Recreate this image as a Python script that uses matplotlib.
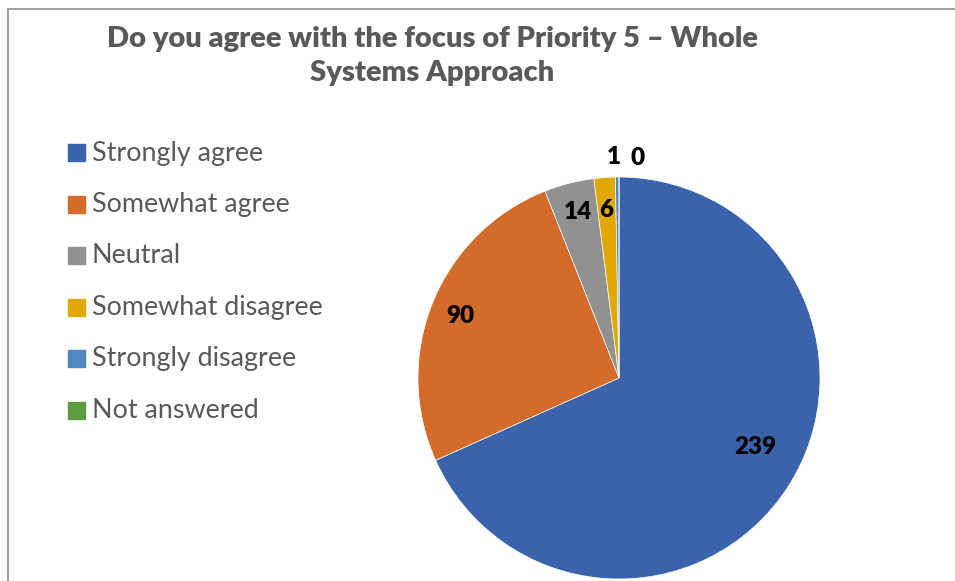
import numpy as np
import matplotlib.pyplot as plt
from matplotlib.lines import Line2D
from matplotlib.patches import Rectangle

plt.rcParams['font.family'] = ['Lato', 'DejaVu Sans']

categories = ['Strongly agree', 'Somewhat agree', 'Neutral',
              'Somewhat disagree', 'Strongly disagree', 'Not answered']
counts = [239, 90, 14, 6, 1, 0]
colors = ['#3A63AB', '#D36B2A', '#919191', '#E0A800', '#4E88BE', '#5E9A3E']
title = 'Do you agree with the focus of Priority 5 – Whole\nSystems Approach'

# label placement: radius (fraction of pie radius) and angle shift in degrees
lab_r = [0.76, 0.85, 0.85, 0.84, 1.10, 1.10]
lab_shift = [6.0, 0.7, -0.6, 0.3, 0.8, -4.7]

W, H = 955, 581
fig = plt.figure(figsize=(W / 100, H / 100), dpi=100)
fig.patch.set_facecolor('white')

# chart frame (top and left edges visible)
grey = '#9a9a9a'
fig.add_artist(Line2D([8 / W, 1], [1 - 9 / H, 1 - 9 / H], color=grey, lw=1.3))
fig.add_artist(Line2D([8 / W, 8 / W], [0, 1 - 9 / H], color=grey, lw=1.3))

cx, cy, r = 619, 378, 201
ax = fig.add_axes([(cx - r) / W, (H - cy - r) / H, 2 * r / W, 2 * r / H])
wedges, _ = ax.pie(counts, colors=colors, startangle=90, counterclock=False,
                   radius=1, wedgeprops=dict(linewidth=0.5, edgecolor='white'))
ax.set_xlim(-1, 1)
ax.set_ylim(-1, 1)
ax.set_aspect('equal')
ax.axis('off')

for w, v, rr, sh in zip(wedges, counts, lab_r, lab_shift):
    ang = np.deg2rad((w.theta1 + w.theta2) / 2 + sh)
    ax.text(rr * np.cos(ang), rr * np.sin(ang), str(v), ha='center', va='center',
            fontsize=17.5, fontweight='heavy', color='black', clip_on=False)

fig.text(432 / W, 1 - 56 / H, title, ha='center', va='center', fontsize=21,
         fontweight='heavy', color='#595959', linespacing=1.42)

# legend
for i, (name, col) in enumerate(zip(categories, colors)):
    y = 153 + i * 51.4
    fig.add_artist(Rectangle((68 / W, 1 - (y + 8.5) / H), 17 / W, 17 / H,
                             color=col, transform=fig.transFigure))
    fig.text(92 / W, 1 - y / H, name, ha='left', va='center', fontsize=19.4,
             color='#595959')

fig.savefig('out.png', dpi=100)
